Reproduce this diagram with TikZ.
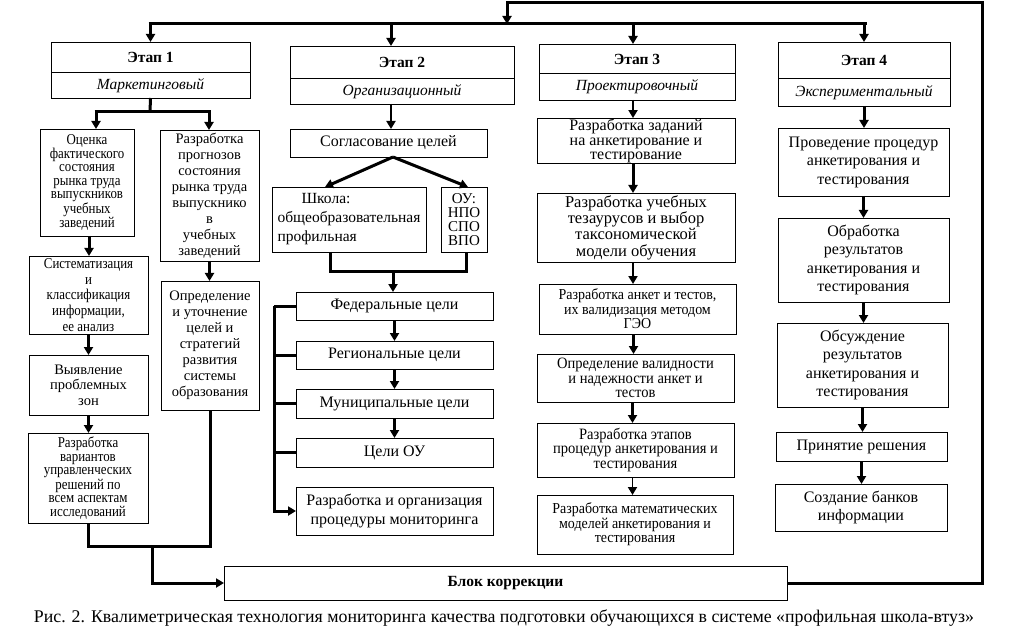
\documentclass[tikz,border=0pt]{standalone}
\usepackage{fontspec}
\setmainfont{Liberation Serif}
\newfontfamily\condfont[FakeStretch=0.86]{Liberation Serif}
\newfontfamily\semicondfont[FakeStretch=0.92]{Liberation Serif}
\usetikzlibrary{arrows.meta}
\newcommand{\mybox}[7][]{\node[box,minimum width={(#5-#3)*1pt},minimum height={(#6-#4)*1pt},#1] (#2) at ({(#3+#5)/2},{(#4+#6)/2}) {#7};}
\newcommand{\fs}[2]{\fontsize{#1}{#2}\selectfont}
\newcommand{\cfs}[2]{\condfont\fontsize{#1}{#2}\selectfont}
\newcommand{\sfs}[2]{\semicondfont\fontsize{#1}{#2}\selectfont}
\begin{document}
\begin{tikzpicture}[x=1pt,y=-1pt,
  box/.style={draw,line width=0.9pt,inner sep=1pt,outer sep=0pt,align=center,font=\fs{16}{16}},
  line/.style={line width=3pt},
  arr/.style={line,-{Triangle[width=9pt,length=8pt]}},
  arrthin/.style={line width=1.8pt,-{Triangle[width=9pt,length=8pt]}},
  divider/.style={line width=0.9pt},
  ttl/.style={font=\fs{15.5}{16}\bfseries,inner sep=0pt},
  sub/.style={font=\fs{15.5}{16}\itshape,inner sep=0pt}]
\useasboundingbox (0,0) rectangle (1023,639);

% ---------- stage headers ----------
\mybox{h1}{51}{42}{250}{98}{}
\mybox{h2}{290}{46}{514}{104}{}
\mybox{h3}{539}{44}{735}{100}{}
\mybox{h4}{778}{42}{950}{106}{}
\draw[divider] (h1.west |- 0,72) -- (h1.east |- 0,72);
\draw[divider] (h2.west |- 0,78) -- (h2.east |- 0,78);
\draw[divider] (h3.west |- 0,73) -- (h3.east |- 0,73);
\draw[divider] (h4.west |- 0,78) -- (h4.east |- 0,78);
\node[ttl] (t1) at (h1.north |- 0,57) {Этап 1};
\node[sub] (s1) at (h1.north |- 0,86) {Маркетинговый};
\node[ttl] (t2) at (h2.north |- 0,62) {Этап 2};
\node[sub] (s2) at (h2.north |- 0,92) {Организационный};
\node[ttl] (t3) at (h3.north |- 0,59) {Этап 3};
\node[sub] (s3) at (h3.north |- 0,87) {Проектировочный};
\node[ttl] (t4) at (h4.north |- 0,60) {Этап 4};
\node[sub] (s4) at (h4.north |- 0,93) {Экспериментальный};

% ---------- column 1 ----------
\mybox[font=\cfs{15}{13.6}]{b1a}{40}{129}{134}{236}{Оценка\\фактического\\состояния\\рынка труда\\выпускников\\учебных\\заведений}
\mybox[font=\fs{14.5}{16}]{b1b}{160}{130}{259}{261}{Разработка\\прогнозов\\состояния\\рынка труда\\выпускнико\\в\\учебных\\заведений}
\mybox[font=\cfs{15}{15.7},text depth=-6pt]{b1c}{29}{256}{148}{334}{Систематизация\\и\\классификация\\информации,\\ее анализ}
\mybox[font=\fs{14.5}{15.5}]{b1d}{29}{355}{148}{415}{Выявление\\проблемных\\зон}
\mybox[font=\cfs{15}{13.5}]{b1e}{28}{433}{148}{523}{Разработка\\вариантов\\управленческих\\решений по\\всем аспектам\\исследований}
\mybox[font=\fs{14.5}{16}]{b1f}{161}{281}{259}{410}{Определение\\и уточнение\\целей и\\стратегий\\развития\\системы\\образования}

% ---------- column 2 ----------
\mybox{c2a}{290}{129}{487}{157}{Согласование целей}
\mybox[align=left,font=\fs{15.5}{19}]{sch}{272}{187}{426}{252}{\hspace*{24pt}Школа:\\общеобразовательная\\профильная}
\mybox[font=\fs{15}{14}]{ou}{441}{187}{487}{252}{ОУ:\\НПО\\СПО\\ВПО}
\mybox{fed}{296}{292}{493}{320}{Федеральные цели}
\mybox{reg}{296}{341}{493}{369}{Региональные цели}
\mybox{mun}{296}{389}{493}{418}{Муниципальные цели}
\mybox{cou}{296}{438}{493}{467}{Цели ОУ}
\mybox[font=\fs{16}{19}]{mon}{296}{487}{493}{535}{Разработка и организация\\процедуры мониторинга}

% ---------- column 3 ----------
\mybox[font=\fs{16}{14.5}]{c3a}{537}{119}{735}{163}{Разработка заданий\\на анкетирование и\\тестирование}
\mybox[font=\fs{16.5}{16.3}]{c3b}{537}{193}{735}{262}{Разработка учебных\\тезаурусов и выбор\\таксономической\\модели обучения}
\mybox[font=\sfs{15.2}{14.5}]{c3c}{539}{284}{736}{334}{Разработка анкет и тестов,\\их валидизация методом\\ГЭО}
\mybox[font=\sfs{15.8}{14.2}]{c3d}{537}{354}{734}{402}{Определение валидности\\и надежности анкет и\\тестов}
\mybox[font=\sfs{15.8}{14.5}]{c3e}{537}{423}{734}{477}{Разработка этапов\\процедур анкетирования и\\тестирования}
\mybox[font=\sfs{15.2}{14.5}]{c3f}{537}{495}{733}{554}{Разработка математических\\моделей анкетирования и\\тестирования}

% ---------- column 4 ----------
\mybox[font=\fs{16}{18.5}]{d4a}{778}{128}{949}{196}{Проведение процедур\\анкетирования и\\тестирования}
\mybox[font=\fs{16}{18.3}]{d4b}{778}{218}{949}{302}{Обработка\\результатов\\анкетирования и\\тестирования}
\mybox[font=\fs{16}{18.3}]{d4c}{777}{323}{948}{407}{Обсуждение\\результатов\\анкетирования и\\тестирования}
\mybox{d4d}{776}{432}{947}{461}{Принятие решения}
\mybox[font=\fs{16}{18.3}]{d4e}{775}{484}{947}{531}{Создание банков\\информации}

% ---------- correction block ----------
\mybox[font=\fs{15.5}{16}\bfseries]{blok}{224}{566}{787}{600}{Блок коррекции}

% ---------- caption ----------
\node[inner sep=0pt] (cap) at (504,618) {\resizebox{940pt}{!}{Рис. 2. Квалиметрическая технология мониторинга качества подготовки обучающихся в системе «профильная школа-втуз»}};

% ---------- feedback loop and top bar ----------
\coordinate (fbR) at (982,3);
\coordinate (fbL) at (507,24);
\coordinate (barL) at (150,24);
\coordinate (barR) at (865,24);
\draw[line] ([xshift=-1.5pt]barL) -- ([xshift=1.5pt]barR);
\draw[arr] (blok.east) -| (fbR) -| (fbL);
\draw[arr] (h1.north |- barL) -- (h1.north);
\draw[arr] ([xshift=-11pt]h2.north |- barL) -- ([xshift=-11pt]h2.north);
\draw[arr] ([xshift=-4pt]h3.north |- barL) -- ([xshift=-4pt]h3.north);
\draw[arr] (h4.north |- barL) -- (h4.north);

% ---------- column 1 connectors ----------
\coordinate (j1) at (150,112);
\draw[line] (h1.south) -- (j1);
\draw[arr] ([xshift=-54pt]j1) -- ([xshift=-54pt]j1 |- b1a.north);
\draw[line] ([xshift=-55.5pt]j1) -- ([xshift=60.5pt]j1);
\draw[arr] ([xshift=59pt]j1) -- ([xshift=59pt]j1 |- b1b.north);
\draw[arr] ([xshift=2pt]b1a.south) -- ([xshift=2pt]b1a.south |- b1c.north);
\draw[arr] (b1c.south) -- (b1c.south |- b1d.north);
\draw[arr] (b1d.south) -- (b1d.south |- b1e.north);
\draw[arr] (b1b.south) -- (b1b.south |- b1f.north);
\coordinate (j2) at (152,546);
\draw[line] (b1e.south) |- (j2) -| (b1f.south);
\draw[arr] (j2) |- (blok.west);

% ---------- column 2 connectors ----------
\draw[arrthin] ([xshift=-11pt]h2.south) -- ([xshift=-11pt]h2.south |- c2a.north);
\draw[arr] ([xshift=4.5pt]c2a.south) -- ([xshift=-24pt]sch.north);
\draw[arr] ([xshift=4.5pt]c2a.south) -- ([xshift=4pt]ou.north);
\coordinate (j3) at (393,272);
\draw[line] ([xshift=-19pt]sch.south) |- (j3) -| ([xshift=2pt]ou.south);
\draw[arr] (j3) -- (j3 |- fed.north);
\draw[arr] (fed.south) -- (reg.north);
\draw[arr] (reg.south) -- (mun.north);
\draw[arr] (mun.south) -- (cou.north);
\coordinate (j4) at (274,306);
\draw[line] (fed.west) -- (j4);
\draw[arr] (j4) |- (mon.west);
\draw[line] (reg.west) -- (reg.west -| j4);
\draw[line] (mun.west) -- (mun.west -| j4);
\draw[line] (cou.west) -- (cou.west -| j4);

% ---------- column 3 connectors ----------
\draw[arrthin] ([xshift=-4pt]h3.south) -- ([xshift=-4pt]h3.south |- c3a.north);
\draw[arr] ([xshift=-3pt]c3a.south) -- ([xshift=-3pt]c3a.south |- c3b.north);
\draw[arrthin] ([xshift=-3pt]c3b.south) -- ([xshift=-3pt]c3b.south |- c3c.north);
\draw[arr] ([xshift=-4pt]c3c.south) -- ([xshift=-4pt]c3c.south |- c3d.north);
\draw[arr] ([xshift=-3pt]c3d.south) -- ([xshift=-3pt]c3d.south |- c3e.north);
\draw[arrthin] ([xshift=-3pt]c3e.south) -- ([xshift=-3pt]c3e.south |- c3f.north);

% ---------- column 4 connectors ----------
\draw[arr] (h4.south) -- (h4.south |- d4a.north);
\draw[arr] (d4a.south) -- (d4a.south |- d4b.north);
\draw[arr] (d4b.south) -- (d4b.south |- d4c.north);
\draw[arr] (d4c.south) -- (d4c.south |- d4d.north);
\draw[arr] (d4d.south) -- (d4d.south |- d4e.north);
\end{tikzpicture}
\end{document}
